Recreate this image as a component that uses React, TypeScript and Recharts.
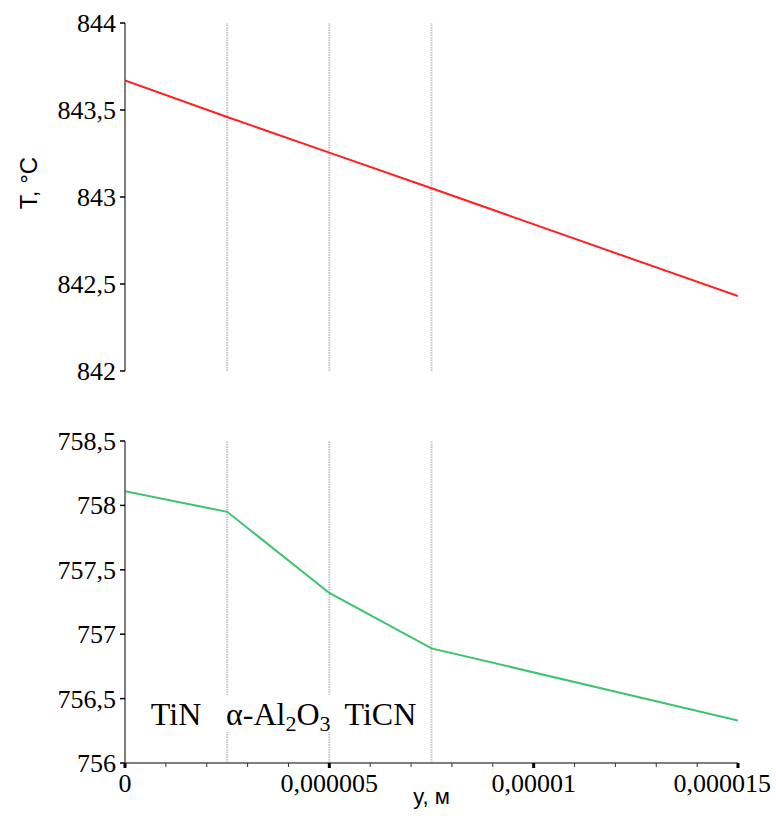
import React from "react";
import { LineChart, Line, XAxis, YAxis, ReferenceLine, ReferenceDot } from "recharts";

// ---------- data ----------
const xPositions = [0, 0.0000025, 0.000005, 0.0000075, 0.000015];
const topTemps = [843.67, 843.46, 843.255, 843.05, 842.43];
const bottomTemps = [758.11, 757.95, 757.32, 756.89, 756.33];

const layerBoundaries = [0.0000025, 0.000005, 0.0000075];
const layerNames = ["TiN", "α-Al2O3", "TiCN"];
const layerCenters = [0.00000125, 0.00000375, 0.00000625];
const layerLabelLevel = 756.38;

const xDomain = [0, 0.000015];
const xMajorTicks = [0, 0.000005, 0.00001, 0.000015];
const xMajorLabels = ["0", "0,000005", "0,00001", "0,000015"];
const xMinorTicks = [
  0, 0.000001, 0.000002, 0.000003, 0.000004, 0.000005, 0.000006, 0.000007,
  0.000008, 0.000009, 0.00001, 0.000011, 0.000012, 0.000013, 0.000014, 0.000015,
];

const topYDomain = [842, 844];
const topYTicks = [842, 842.5, 843, 843.5, 844];
const bottomYDomain = [756, 758.5];
const bottomYTicks = [756, 756.5, 757, 757.5, 758, 758.5];

const yAxisTitle = "T, °C";
const xAxisTitle = "y, м";

// ---------- styles ----------
const SERIF = "'Liberation Serif', 'Times New Roman', serif";
const SANS = "'Liberation Sans', Arial, sans-serif";
const AXIS_COLOR = "#555";
const GUIDE_COLOR = "#c4c4c4";
const RED = "#ff2020";
const GREEN = "#3cc46e";
// white box behind each layer label: [left extent, right extent]
const labelBoxes: Record<string, [number, number]> = {
  TiN: [48, 56],
  "α-Al2O3": [56, 56],
  TiCN: [40, 40],
};

const topData = xPositions.map((x, i) => ({ x, t: topTemps[i] }));
const bottomData = xPositions.map((x, i) => ({ x, t: bottomTemps[i] }));

const fmtComma = (v: number) => String(v).replace(".", ",");

const YTick = (props: any) => {
  const { x, y, payload } = props;
  return (
    <text
      x={x}
      y={y}
      dy={9}
      textAnchor="end"
      fill="#000"
      style={{ fontFamily: SERIF, fontSize: 26 }}
    >
      {fmtComma(payload.value)}
    </text>
  );
};

const XTick = (props: any) => {
  const { x, y, payload } = props;
  const v = payload.value;
  const mi = xMajorTicks.findIndex((m) => Math.abs(m - v) < 1e-12);
  if (mi < 0) {
    return <line x1={x} x2={x} y1={y} y2={y + 4} stroke="#333" strokeWidth={1} />;
  }
  const last = mi === xMajorTicks.length - 1;
  return (
    <g>
      <rect x={x - 1.5} y={y} width={3} height={5} fill="#000" />
      <text
        x={last ? x + 33 : x}
        y={y + 29}
        textAnchor={last ? "end" : "middle"}
        fill="#000"
        style={{ fontFamily: SERIF, fontSize: 26 }}
      >
        {xMajorLabels[mi]}
      </text>
    </g>
  );
};

const renderFormula = (name: string) => {
  const parts = name.split(/(\d)/).filter((s) => s.length > 0);
  const out: any[] = [];
  let sub = false;
  parts.forEach((p, i) => {
    if (/^\d$/.test(p)) {
      out.push(
        <tspan key={i} style={{ fontSize: 22 }} dy={sub ? 0 : 6}>
          {p}
        </tspan>
      );
      sub = true;
    } else {
      out.push(
        <tspan key={i} dy={sub ? -6 : 0}>
          {p}
        </tspan>
      );
      sub = false;
    }
  });
  return out;
};

const LayerLabel = (name: string) => (props: any) => {
  const { cx, cy } = props;
  const [l, r] = labelBoxes[name] || [40, 40];
  return (
    <g>
      <rect x={cx - l} y={cy - 19} width={l + r} height={37} fill="#fff" />
      <text x={cx} y={cy + 11} textAnchor="middle" fill="#000" style={{ fontFamily: SERIF, fontSize: 32 }}>
        {renderFormula(name)}
      </text>
    </g>
  );
};

const YTitle = (props: any) => {
  const vb = props.viewBox;
  const cx = vb.x + 28;
  const cy = vb.y + vb.height / 2 - 14;
  return (
    <text
      x={cx}
      y={cy}
      transform={`rotate(-90, ${cx}, ${cy})`}
      textAnchor="middle"
      dominantBaseline="central"
      fill="#000"
      style={{ fontFamily: SANS, fontSize: 24 }}
    >
      {yAxisTitle}
    </text>
  );
};

const XTitle = (props: any) => {
  const vb = props.viewBox;
  return (
    <text
      x={vb.x + vb.width / 2}
      y={vb.y + 41}
      textAnchor="middle"
      fill="#000"
      style={{ fontFamily: SANS, fontSize: 22 }}
    >
      {xAxisTitle}
    </text>
  );
};

const yAxisCommon = {
  type: "number" as const,
  width: 125,
  interval: 0 as const,
  allowDataOverflow: true,
  tick: <YTick />,
  tickLine: { stroke: "#000", strokeWidth: 1.5 },
  tickSize: 5,
  tickMargin: 4,
  axisLine: { stroke: AXIS_COLOR, strokeWidth: 1.5 },
};

export default function App() {
  return (
    <div style={{ position: "absolute", left: 0, top: 0, width: 776, height: 816, background: "#fff" }}>
      <div style={{ position: "absolute", left: 0, top: 0 }}>
        <LineChart width={776} height={400} data={topData} margin={{ top: 23, right: 38, bottom: 29, left: 0 }}>
          <XAxis dataKey="x" type="number" domain={xDomain} ticks={xMajorTicks} hide allowDataOverflow />
          <YAxis {...yAxisCommon} domain={topYDomain} ticks={topYTicks} label={<YTitle />} />
          {layerBoundaries.map((b) => (
            <ReferenceLine key={b} x={b} stroke={GUIDE_COLOR} strokeWidth={2} strokeDasharray="1.5 1" />
          ))}
          <Line dataKey="t" stroke={RED} strokeWidth={2} dot={false} isAnimationActive={false} />
        </LineChart>
      </div>
      <div style={{ position: "absolute", left: 0, top: 400 }}>
        <LineChart width={776} height={416} data={bottomData} margin={{ top: 41, right: 38, bottom: 0, left: 0 }}>
          <XAxis
            dataKey="x"
            type="number"
            domain={xDomain}
            ticks={xMinorTicks}
            interval={0}
            allowDataOverflow
            height={53}
            tickSize={0}
            tickMargin={0}
            tickLine={false}
            tick={<XTick />}
            axisLine={{ stroke: AXIS_COLOR, strokeWidth: 1.5 }}
            label={<XTitle />}
          />
          <YAxis {...yAxisCommon} domain={bottomYDomain} ticks={bottomYTicks} />
          {layerBoundaries.map((b) => (
            <ReferenceLine key={b} x={b} stroke={GUIDE_COLOR} strokeWidth={2} strokeDasharray="1.5 1" />
          ))}
          {layerNames.map((n, i) => (
            <ReferenceDot key={n} x={layerCenters[i]} y={layerLabelLevel} r={0} shape={LayerLabel(n)} />
          ))}
          <Line dataKey="t" stroke={GREEN} strokeWidth={2} dot={false} isAnimationActive={false} />
        </LineChart>
      </div>
    </div>
  );
}
